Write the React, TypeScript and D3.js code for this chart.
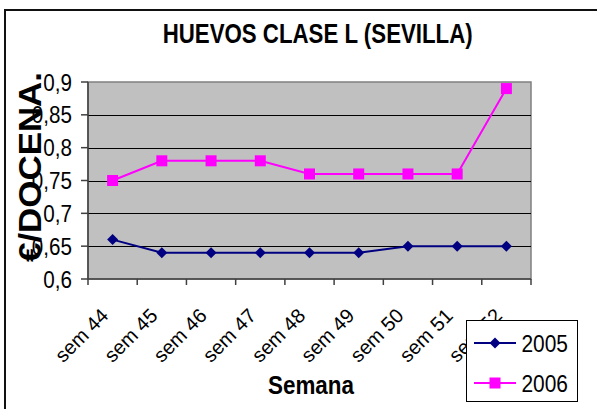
import React from "react";
import * as d3 from "d3";

const categories = ["sem 44", "sem 45", "sem 46", "sem 47", "sem 48", "sem 49", "sem 50", "sem 51", "sem 52"];
const series2005 = [0.66, 0.64, 0.64, 0.64, 0.64, 0.64, 0.65, 0.65, 0.65];
const series2006 = [0.75, 0.78, 0.78, 0.78, 0.76, 0.76, 0.76, 0.76, 0.89];
const yTicks = [0.6, 0.65, 0.7, 0.75, 0.8, 0.85, 0.9];
const seriesNames = ["2005", "2006"];
const title = "HUEVOS CLASE L (SEVILLA)";
const xTitle = "Semana";
const yTitle = "€/DOCENA.";

const W = 597;
const H = 409;
const plot = { left: 88, right: 531, top: 82, bottom: 279 };
const FONT = "'Liberation Sans', Arial, sans-serif";

export default function App() {
  const x = d3.scaleBand<string>().domain(categories).range([plot.left, plot.right]);
  const y = d3.scaleLinear().domain([0.6, 0.9]).range([plot.bottom, plot.top]);
  const xc = (c: string) => (x(c) as number) + x.bandwidth() / 2;

  const line = d3
    .line<number>()
    .x((_, i) => xc(categories[i]))
    .y((d) => y(d));

  const fmt = (v: number) => String(+v.toFixed(2)).replace(".", ",");

  const diamond = (cx: number, cy: number, r: number) =>
    `M${cx},${cy - r}L${cx + r},${cy}L${cx},${cy + r}L${cx - r},${cy}Z`;

  const navy = "#000080";
  const magenta = "#FF00FF";

  const legendY = [343, 383];

  return (
    <svg
      width={W}
      height={H}
      style={{ position: "absolute", left: 0, top: 0, background: "#fff" }}
      fontFamily={FONT}
    >
      <rect x={0} y={0} width={W} height={H} fill="#fff" />
      {/* outer border */}
      <rect x={5} y={10} width={W + 20} height={H + 20} fill="none" stroke="#111" strokeWidth={2} />

      {/* title */}
      <text
        x={317.7}
        y={43}
        textAnchor="middle"
        fontSize={27}
        fontWeight="bold"
        textLength={310}
        lengthAdjust="spacingAndGlyphs"
      >
        {title}
      </text>

      {/* plot area */}
      <rect
        x={plot.left}
        y={plot.top}
        width={plot.right - plot.left}
        height={plot.bottom - plot.top}
        fill="#C0C0C0"
        stroke="#808080"
        strokeWidth={1.5}
      />

      {/* gridlines */}
      {yTicks
        .filter((t) => t > 0.6 && t < 0.9)
        .map((t) => (
          <line
            key={"g" + t}
            x1={plot.left}
            x2={plot.right}
            y1={Math.round(y(t)) + 0.5}
            y2={Math.round(y(t)) + 0.5}
            stroke="#000"
            strokeWidth={1}
          />
        ))}

      {/* axes */}
      <line x1={plot.left} x2={plot.left} y1={plot.top} y2={plot.bottom} stroke="#404040" strokeWidth={1.5} />
      <line x1={plot.left} x2={plot.right} y1={plot.bottom} y2={plot.bottom} stroke="#404040" strokeWidth={1.5} />

      {/* y ticks */}
      {yTicks.map((t) => (
        <g key={"yt" + t}>
          <line x1={plot.left - 7} x2={plot.left} y1={y(t)} y2={y(t)} stroke="#404040" strokeWidth={1.5} />
          <text
            transform={`translate(72,${y(t)}) scale(0.86,1)`}
            dy="0.36em"
            textAnchor="end"
            fontSize={24}
          >
            {fmt(t)}
          </text>
        </g>
      ))}

      {/* x ticks */}
      {d3.range(categories.length + 1).map((i) => {
        const px = plot.left + i * x.bandwidth();
        return (
          <line key={"xt" + i} x1={px} x2={px} y1={plot.bottom} y2={plot.bottom + 6} stroke="#404040" strokeWidth={1.5} />
        );
      })}
      {categories.map((c) => (
        <text
          key={"xl" + c}
          transform={`translate(${xc(c) - 3},${317}) rotate(-45)`}
          textAnchor="end"
          fontSize={20}
        >
          {c}
        </text>
      ))}

      {/* series lines */}
      <path d={line(series2005) || ""} fill="none" stroke={navy} strokeWidth={2} />
      <path d={line(series2006) || ""} fill="none" stroke={magenta} strokeWidth={2} />
      {series2005.map((v, i) => (
        <path key={"m5" + i} d={diamond(xc(categories[i]), y(v), 5.5)} fill={navy} />
      ))}
      {series2006.map((v, i) => (
        <rect key={"m6" + i} x={xc(categories[i]) - 5.5} y={y(v) - 5.5} width={11} height={11} fill={magenta} />
      ))}

      {/* axis titles */}
      <text x={311} y={394} textAnchor="middle" fontSize={25} fontWeight="bold" textLength={86} lengthAdjust="spacingAndGlyphs">
        {xTitle}
      </text>
      <text
        transform={`translate(41,${167}) rotate(-90)`}
        textAnchor="middle"
        fontSize={32}
        fontWeight="bold"
        textLength={190}
        lengthAdjust="spacingAndGlyphs"
      >
        {yTitle}
      </text>

      {/* legend */}
      <rect x={466.5} y={320.5} width={111} height={81} fill="#fff" stroke="#000" strokeWidth={1} />
      {seriesNames.map((n, i) => (
        <g key={"lg" + n}>
          <line x1={474} x2={516} y1={legendY[i]} y2={legendY[i]} stroke={i === 0 ? navy : magenta} strokeWidth={2} />
          {i === 0 ? (
            <path d={diamond(495, legendY[i], 5.5)} fill={navy} />
          ) : (
            <rect x={495 - 5.5} y={legendY[i] - 5.5} width={11} height={11} fill={magenta} />
          )}
          <text x={521.5} y={legendY[i] + 8.5} fontSize={23} textLength={46.5} lengthAdjust="spacingAndGlyphs">
            {n}
          </text>
        </g>
      ))}
    </svg>
  );
}
